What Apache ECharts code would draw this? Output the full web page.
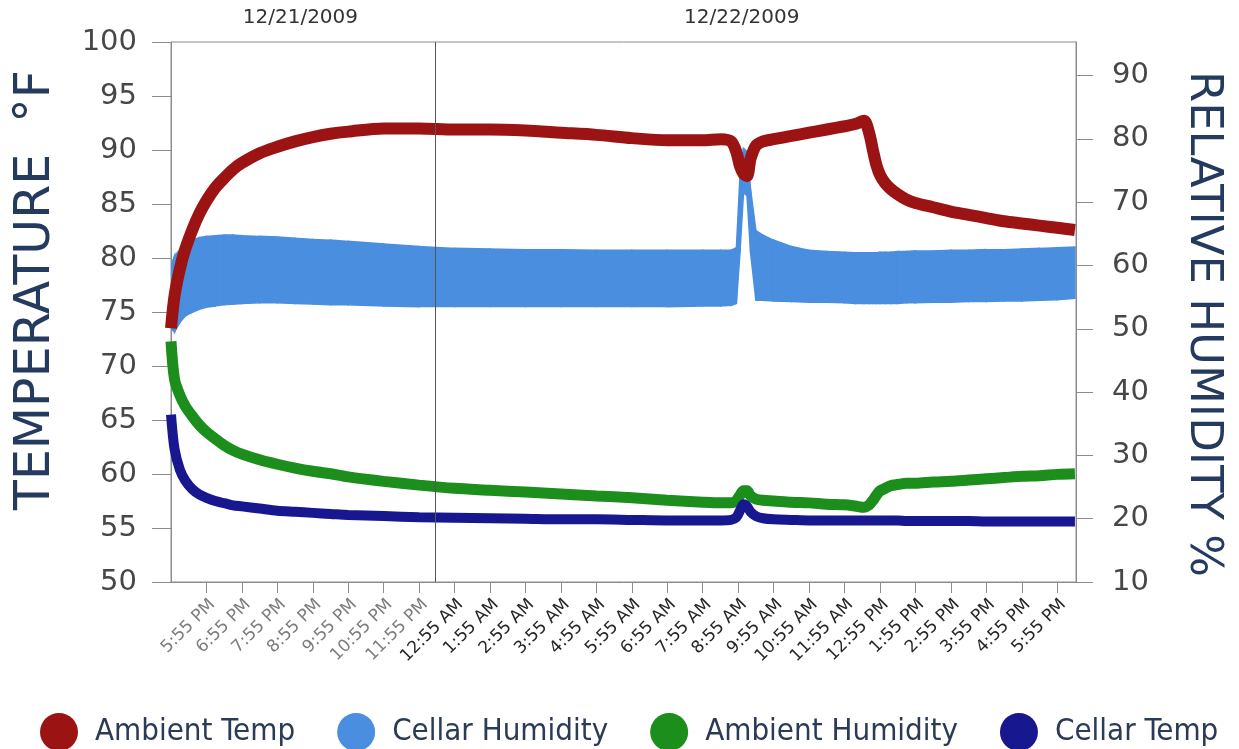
<!DOCTYPE html>
<html><head><meta charset="utf-8">
<script src="https://cdn.jsdelivr.net/npm/echarts@6/dist/echarts.min.js"></script>
<style>html,body{margin:0;padding:0;background:#fff}#c{width:1239px;height:749px}</style>
</head><body><div id="c"></div>
<script>
// hours elapsed since 4:55 PM on 12/21/2009
const hours = [0, 0.1, 0.25, 0.4, 0.6, 0.8, 1.0, 1.25, 1.5, 1.75, 2.0, 2.5, 3.0, 3.5, 4.0, 4.5, 5, 6, 7, 8, 9, 10, 11, 12, 13, 14, 15, 15.5, 15.8, 15.95, 16.05, 16.15, 16.25, 16.35, 16.5, 16.7, 17, 17.5, 18, 18.5, 19, 19.3, 19.55, 19.7, 19.8, 19.9, 20.0, 20.15, 20.3, 20.5, 20.75, 21, 21.5, 22, 22.5, 23, 23.5, 24, 24.5, 25, 25.5];

// Ambient Temp (°F, left axis)
const ambientTemp = [73.5, 76.5, 79.0, 80.8, 82.6, 84.1, 85.3, 86.5, 87.4, 88.2, 88.8, 89.7, 90.3, 90.8, 91.2, 91.5, 91.7, 92.0, 92.0, 91.9, 91.9, 91.8, 91.6, 91.4, 91.1, 90.9, 90.9, 91.0, 90.8, 89.8, 88.5, 87.8, 87.6, 89.2, 90.4, 90.8, 91.0, 91.3, 91.6, 91.9, 92.2, 92.4, 92.7, 91.5, 90.0, 88.6, 87.7, 86.9, 86.4, 85.9, 85.4, 85.1, 84.7, 84.3, 84.0, 83.7, 83.4, 83.2, 83.0, 82.8, 82.6];

// Cellar Humidity (% RH, right axis) - lower and upper edge of the oscillation band
const cellarHumLow = [50.0, 49.5, 51.0, 52.0, 52.6, 53.1, 53.4, 53.6, 53.8, 53.9, 54.0, 54.1, 54.1, 54.0, 53.9, 53.8, 53.8, 53.6, 53.5, 53.5, 53.5, 53.5, 53.5, 53.5, 53.5, 53.5, 53.6, 53.6, 53.7, 54.0, 62.0, 71.5, 71.0, 62.0, 54.5, 54.5, 54.4, 54.3, 54.2, 54.2, 54.1, 54.0, 54.0, 54.0, 54.0, 54.0, 54.0, 54.0, 54.0, 54.0, 54.1, 54.1, 54.2, 54.2, 54.3, 54.3, 54.4, 54.4, 54.5, 54.6, 54.8];
const cellarHumHigh = [60.0, 61.5, 62.5, 63.4, 64.0, 64.4, 64.6, 64.7, 64.8, 64.8, 64.7, 64.6, 64.5, 64.3, 64.1, 64.0, 63.8, 63.4, 63.0, 62.7, 62.6, 62.5, 62.5, 62.4, 62.4, 62.4, 62.4, 62.4, 62.4, 62.8, 74.0, 78.5, 78.0, 72.0, 65.5, 64.8, 64.0, 63.0, 62.4, 62.2, 62.1, 62.0, 62.0, 62.0, 62.0, 62.0, 62.1, 62.1, 62.1, 62.2, 62.2, 62.3, 62.3, 62.4, 62.4, 62.5, 62.5, 62.6, 62.7, 62.8, 62.9];

// Ambient Humidity (% RH, right axis)
const ambientHumidity = [48.0, 42.0, 39.5, 37.8, 36.2, 34.8, 33.7, 32.6, 31.6, 30.8, 30.2, 29.3, 28.6, 28.0, 27.5, 27.1, 26.6, 25.9, 25.3, 24.8, 24.5, 24.2, 23.9, 23.6, 23.3, 22.9, 22.6, 22.5, 22.5, 22.9, 23.7, 24.4, 24.4, 23.6, 23.1, 22.9, 22.8, 22.6, 22.5, 22.3, 22.2, 22.0, 21.8, 22.2, 22.9, 23.7, 24.4, 24.8, 25.2, 25.4, 25.6, 25.6, 25.8, 25.9, 26.1, 26.3, 26.5, 26.7, 26.8, 27.0, 27.1];

// Cellar Temp (°F, left axis)
const cellarTemp = [65.5, 62.3, 60.4, 59.4, 58.6, 58.1, 57.8, 57.5, 57.3, 57.1, 57.0, 56.8, 56.6, 56.5, 56.4, 56.3, 56.2, 56.1, 56.0, 55.95, 55.9, 55.85, 55.8, 55.8, 55.75, 55.7, 55.7, 55.7, 55.75, 56.0, 56.6, 57.2, 57.0, 56.5, 56.1, 55.9, 55.8, 55.75, 55.7, 55.7, 55.7, 55.7, 55.7, 55.7, 55.7, 55.7, 55.7, 55.7, 55.7, 55.7, 55.65, 55.65, 55.65, 55.65, 55.65, 55.6, 55.6, 55.6, 55.6, 55.6, 55.6];

// x tick labels and their positions (hours since 4:55 PM)
const timeTickLabels = ['5:55 PM', '6:55 PM', '7:55 PM', '8:55 PM', '9:55 PM', '10:55 PM', '11:55 PM', '12:55 AM', '1:55 AM', '2:55 AM', '3:55 AM', '4:55 AM', '5:55 AM', '6:55 AM', '7:55 AM', '8:55 AM', '9:55 AM', '10:55 AM', '11:55 AM', '12:55 PM', '1:55 PM', '2:55 PM', '3:55 PM', '4:55 PM', '5:55 PM'];
const timeTickHours = [1, 2, 3, 4, 5, 6, 7, 8, 9, 10, 11, 12, 13, 14, 15, 16, 17, 18, 19, 20, 21, 22, 23, 24, 25];
const dayLabels = ['12/21/2009', '12/22/2009'];
const dayLabelHours = [3.65, 16.1];
const dayDividerHour = 7.46;
const xMax = 25.53;
const humidityTicks = [10, 20, 30, 40, 50, 60, 70, 80, 90];

const pairs = (ys) => hours.map((h, i) => [h, ys[i]]);
const bandData = hours.map((h, i) => [h, cellarHumLow[i], cellarHumHigh[i]]);

const C_RED = '#9c1313', C_LBLUE = '#4a8ee0', C_GREEN = '#1b8e1b', C_NAVY = '#17178f';
const AX = '#8c8c8c';
const TITLE = '#243a5e';

const chart = echarts.init(document.getElementById('c'), null, {renderer: 'canvas'});
chart.setOption({
  animation: false,
  backgroundColor: '#ffffff',
  grid: {left: 171, right: 163, top: 42, bottom: 167, show: true, borderColor: AX, borderWidth: 1, backgroundColor: 'transparent'},
  legend: {
    data: ['Ambient Temp', 'Cellar Humidity', 'Ambient Humidity', 'Cellar Temp'],
    icon: 'circle', top: 708, left: 35,
    itemWidth: 38, itemHeight: 40, itemGap: 42,
    textStyle: {fontFamily: "'DejaVu Sans Condensed', 'DejaVu Sans', sans-serif", fontSize: 31, color: '#2b3a55', padding: [0, 0, 0, 12]}
  },
  xAxis: [{
    type: 'value', min: 0, max: xMax, position: 'bottom',
    axisLine: {show: true, onZero: false, lineStyle: {color: AX}},
    axisTick: {show: true, length: 11, customValues: timeTickHours, lineStyle: {color: AX}},
    splitLine: {show: false},
    axisLabel: {
      customValues: timeTickHours, rotate: 45, margin: 14, verticalAlign: 'top',
      fontFamily: 'DejaVu Sans', fontSize: 17,
      formatter: v => timeTickLabels[timeTickHours.indexOf(Number(v))] || '',
      color: (v) => Number(v) <= 7 ? '#7d7d7d' : '#262626'
    }
  }, {
    type: 'value', min: 0, max: xMax, position: 'top',
    axisLine: {show: false, onZero: false}, axisTick: {show: false}, splitLine: {show: false},
    axisLabel: {
      customValues: dayLabelHours, margin: 14,
      fontFamily: 'DejaVu Sans', fontSize: 20, color: '#333',
      formatter: v => dayLabels[dayLabelHours.indexOf(Number(v))] || ''
    }
  }],
  yAxis: [{
    type: 'value', min: 50, max: 100, interval: 5, position: 'left',
    name: 'TEMPERATURE  °F', nameLocation: 'middle', nameRotate: 90, nameGap: 110,
    nameTextStyle: {fontFamily: 'DejaVu Sans', fontSize: 49, color: TITLE, padding: [0, 0, 0, 44]},
    axisLine: {show: true, onZero: false, lineStyle: {color: AX}},
    axisTick: {show: true, length: 19, lineStyle: {color: AX}},
    splitLine: {show: false},
    axisLabel: {margin: 34, fontFamily: 'DejaVu Sans', fontSize: 29, color: '#474747'}
  }, {
    type: 'value', min: 10, max: 95.3, position: 'right',
    name: 'RELATIVE HUMIDITY %', nameLocation: 'middle', nameRotate: -90, nameGap: 104,
    nameTextStyle: {fontFamily: 'DejaVu Sans', fontSize: 45, color: TITLE, padding: [0, 0, 0, 24]},
    axisLine: {show: true, onZero: false, lineStyle: {color: AX}},
    axisTick: {show: true, length: 17, customValues: humidityTicks, lineStyle: {color: AX}},
    splitLine: {show: false},
    axisLabel: {customValues: humidityTicks, margin: 36, fontFamily: 'DejaVu Sans', fontSize: 29, color: '#474747'}
  }],
  series: [
    {
      name: 'divider', type: 'line', data: [], z: 1, silent: true,
      markLine: {silent: true, symbol: ['none', 'none'], label: {show: false},
        lineStyle: {color: '#555', width: 1, type: 'solid'},
        data: [{xAxis: dayDividerHour}]}
    },
    {
      name: 'Ambient Temp', type: 'line', yAxisIndex: 0, data: pairs(ambientTemp),
      showSymbol: false, smooth: 0.3, lineStyle: {color: C_RED, width: 12}, itemStyle: {color: C_RED}
    },
    {
      name: 'Cellar Humidity', type: 'custom', yAxisIndex: 1, data: bandData, clip: true,
      encode: {x: 0, y: [1, 2]}, itemStyle: {color: C_LBLUE},
      renderItem: (params, api) => {
        const j = params.dataIndexInside;
        if (j >= params.dataInsideLength - 1) return null;
        const a = api.coord([api.value(0, j), api.value(1, j)]);
        const b = api.coord([api.value(0, j), api.value(2, j)]);
        const c = api.coord([api.value(0, j + 1), api.value(2, j + 1)]);
        const d = api.coord([api.value(0, j + 1), api.value(1, j + 1)]);
        return {type: 'polygon', shape: {points: [a, b, c, d]},
          style: {fill: C_LBLUE, stroke: C_LBLUE, lineWidth: 1.5}};
      }
    },
    {
      name: 'Ambient Humidity', type: 'line', yAxisIndex: 1, data: pairs(ambientHumidity),
      showSymbol: false, smooth: 0.3, lineStyle: {color: C_GREEN, width: 11}, itemStyle: {color: C_GREEN}
    },
    {
      name: 'Cellar Temp', type: 'line', yAxisIndex: 0, data: pairs(cellarTemp),
      showSymbol: false, smooth: 0.3, lineStyle: {color: C_NAVY, width: 10}, itemStyle: {color: C_NAVY}
    }
  ]
});
</script>
</body></html>
